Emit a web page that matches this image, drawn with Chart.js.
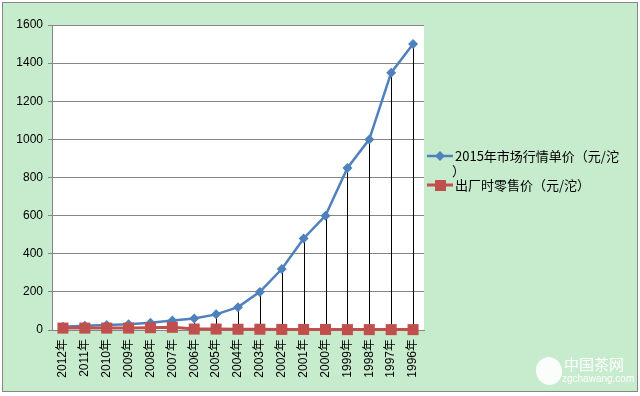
<!DOCTYPE html>
<html><head><meta charset="utf-8">
<script src="https://cdn.jsdelivr.net/npm/chart.js@4/dist/chart.umd.min.js"></script>
<style>html,body{margin:0;padding:0;background:#fff}#wrap{width:640px;height:396px;position:relative}</style>
</head><body><div id="wrap"><canvas id="c" width="640" height="396"></canvas></div>
<script>
const categories = ['2012年','2011年','2010年','2009年','2008年','2007年','2006年','2005年','2004年','2003年','2002年','2001年','2000年','1999年','1998年','1997年','1996年'];
const marketPrice = [17,22,26,30,38,50,60,82,120,200,320,480,600,850,1000,1350,1500];
const retailPrice = [10,10,10,10,12,14,5,5,4,4,3,3,3,2,2,2,2];
const seriesNames = ['2015年市场行情单价（元/沱', '出厂时零售价（元/沱）'];
const yMin = 0, yMax = 1600, yStep = 200;

const BLUE = '#4F81BD', RED = '#C0504D', GREEN_BG = '#C7EBCD', GRID = '#868686';

Chart.defaults.font.family = "'Liberation Sans','Noto Sans CJK SC',sans-serif";
Chart.defaults.font.size = 12;
Chart.defaults.color = '#000';

const bgPlugin = {
  id: 'bg',
  beforeDraw(chart) {
    const ctx = chart.ctx, a = chart.chartArea;
    ctx.save();
    ctx.fillStyle = '#fff';
    ctx.fillRect(0, 0, chart.width, chart.height);
    ctx.fillStyle = GREEN_BG;
    ctx.fillRect(2, 2, 636, 390);
    ctx.strokeStyle = GRID;
    ctx.lineWidth = 1;
    ctx.strokeRect(2.5, 2.5, 635, 389);
    ctx.fillStyle = '#fff';
    ctx.fillRect(a.left, a.top, a.right - a.left, a.bottom - a.top);
    ctx.restore();
  }
};

const dropLines = {
  id: 'dropLines',
  beforeDatasetsDraw(chart) {
    const ctx = chart.ctx;
    const meta = chart.getDatasetMeta(0);
    const y0 = chart.scales.y.getPixelForValue(0);
    ctx.save();
    ctx.strokeStyle = '#000';
    ctx.lineWidth = 1;
    meta.data.forEach(p => {
      const x = Math.round(p.x) + 0.5;
      ctx.beginPath();
      ctx.moveTo(x, p.y);
      ctx.lineTo(x, y0);
      ctx.stroke();
    });
    ctx.restore();
  }
};

const legendPlugin = {
  id: 'customLegend',
  afterDraw(chart) {
    const ctx = chart.ctx;
    ctx.save();
    ctx.font = "13px 'Noto Sans CJK SC','Liberation Sans',sans-serif";
    ctx.textBaseline = 'middle';
    ctx.textAlign = 'left';
    let y = 156;
    ctx.strokeStyle = BLUE; ctx.lineWidth = 2.5;
    ctx.beginPath(); ctx.moveTo(427, y); ctx.lineTo(453, y); ctx.stroke();
    ctx.fillStyle = BLUE;
    ctx.beginPath(); ctx.moveTo(440, y - 5); ctx.lineTo(445, y); ctx.lineTo(440, y + 5); ctx.lineTo(435, y); ctx.closePath(); ctx.fill();
    ctx.fillStyle = '#000';
    ctx.fillText(seriesNames[0], 455, y);
    ctx.fillText('）', 452, y + 15);
    y = 185;
    ctx.strokeStyle = RED; ctx.lineWidth = 3;
    ctx.beginPath(); ctx.moveTo(427, y); ctx.lineTo(453, y); ctx.stroke();
    ctx.fillStyle = RED;
    ctx.fillRect(435, y - 5, 11, 11);
    ctx.fillStyle = '#000';
    ctx.fillText(seriesNames[1], 455, y);
    ctx.restore();
  }
};

const watermark = {
  id: 'watermark',
  afterDraw(chart) {
    const ctx = chart.ctx;
    ctx.save();
    ctx.fillStyle = 'rgba(255,255,255,0.9)';
    ctx.beginPath();
    ctx.ellipse(549, 371, 13, 14, -0.3, 0, Math.PI * 2);
    ctx.fill();
    ctx.font = "15px 'Noto Sans CJK SC',sans-serif";
    ctx.textBaseline = 'middle';
    ctx.fillStyle = '#fff';
    ctx.fillText('中国茶网', 564, 364);
    ctx.font = "10px 'Liberation Sans',sans-serif";
    ctx.fillText('zgchawang.com', 562, 379);
    ctx.restore();
  }
};

new Chart(document.getElementById('c'), {
  type: 'line',
  data: {
    labels: categories,
    datasets: [
      {
        label: seriesNames[0] + '）',
        data: marketPrice,
        borderColor: BLUE,
        backgroundColor: BLUE,
        borderWidth: 2.5,
        pointStyle: 'rectRot',
        pointRadius: 5,
        pointBorderWidth: 0,
        tension: 0,
        clip: false,
        order: 1
      },
      {
        label: seriesNames[1],
        data: retailPrice,
        borderColor: RED,
        backgroundColor: RED,
        borderWidth: 3,
        pointStyle: 'rect',
        pointRadius: 7.8,
        pointBorderWidth: 0,
        tension: 0,
        clip: false,
        order: 0
      }
    ]
  },
  options: {
    responsive: false,
    animation: false,
    layout: { padding: { left: 0, top: 25, right: 216, bottom: 0 } },
    plugins: { legend: { display: false }, tooltip: { enabled: false } },
    scales: {
      x: {
        offset: true,
        grid: { display: false, drawTicks: false },
        border: { display: true, color: GRID, width: 1 },
        ticks: { minRotation: 90, maxRotation: 90, autoSkip: false, padding: 9 },
        afterFit(s) { s.height = 66; }
      },
      y: {
        min: yMin, max: yMax,
        ticks: { stepSize: yStep, padding: 5, callback: v => String(v) },
        grid: { color: GRID, tickLength: 4, lineWidth: 1 },
        border: { display: true, color: GRID, width: 1 },
        afterFit(s) { s.width = 52; }
      }
    }
  },
  plugins: [bgPlugin, dropLines, legendPlugin, watermark]
});
</script></body></html>
